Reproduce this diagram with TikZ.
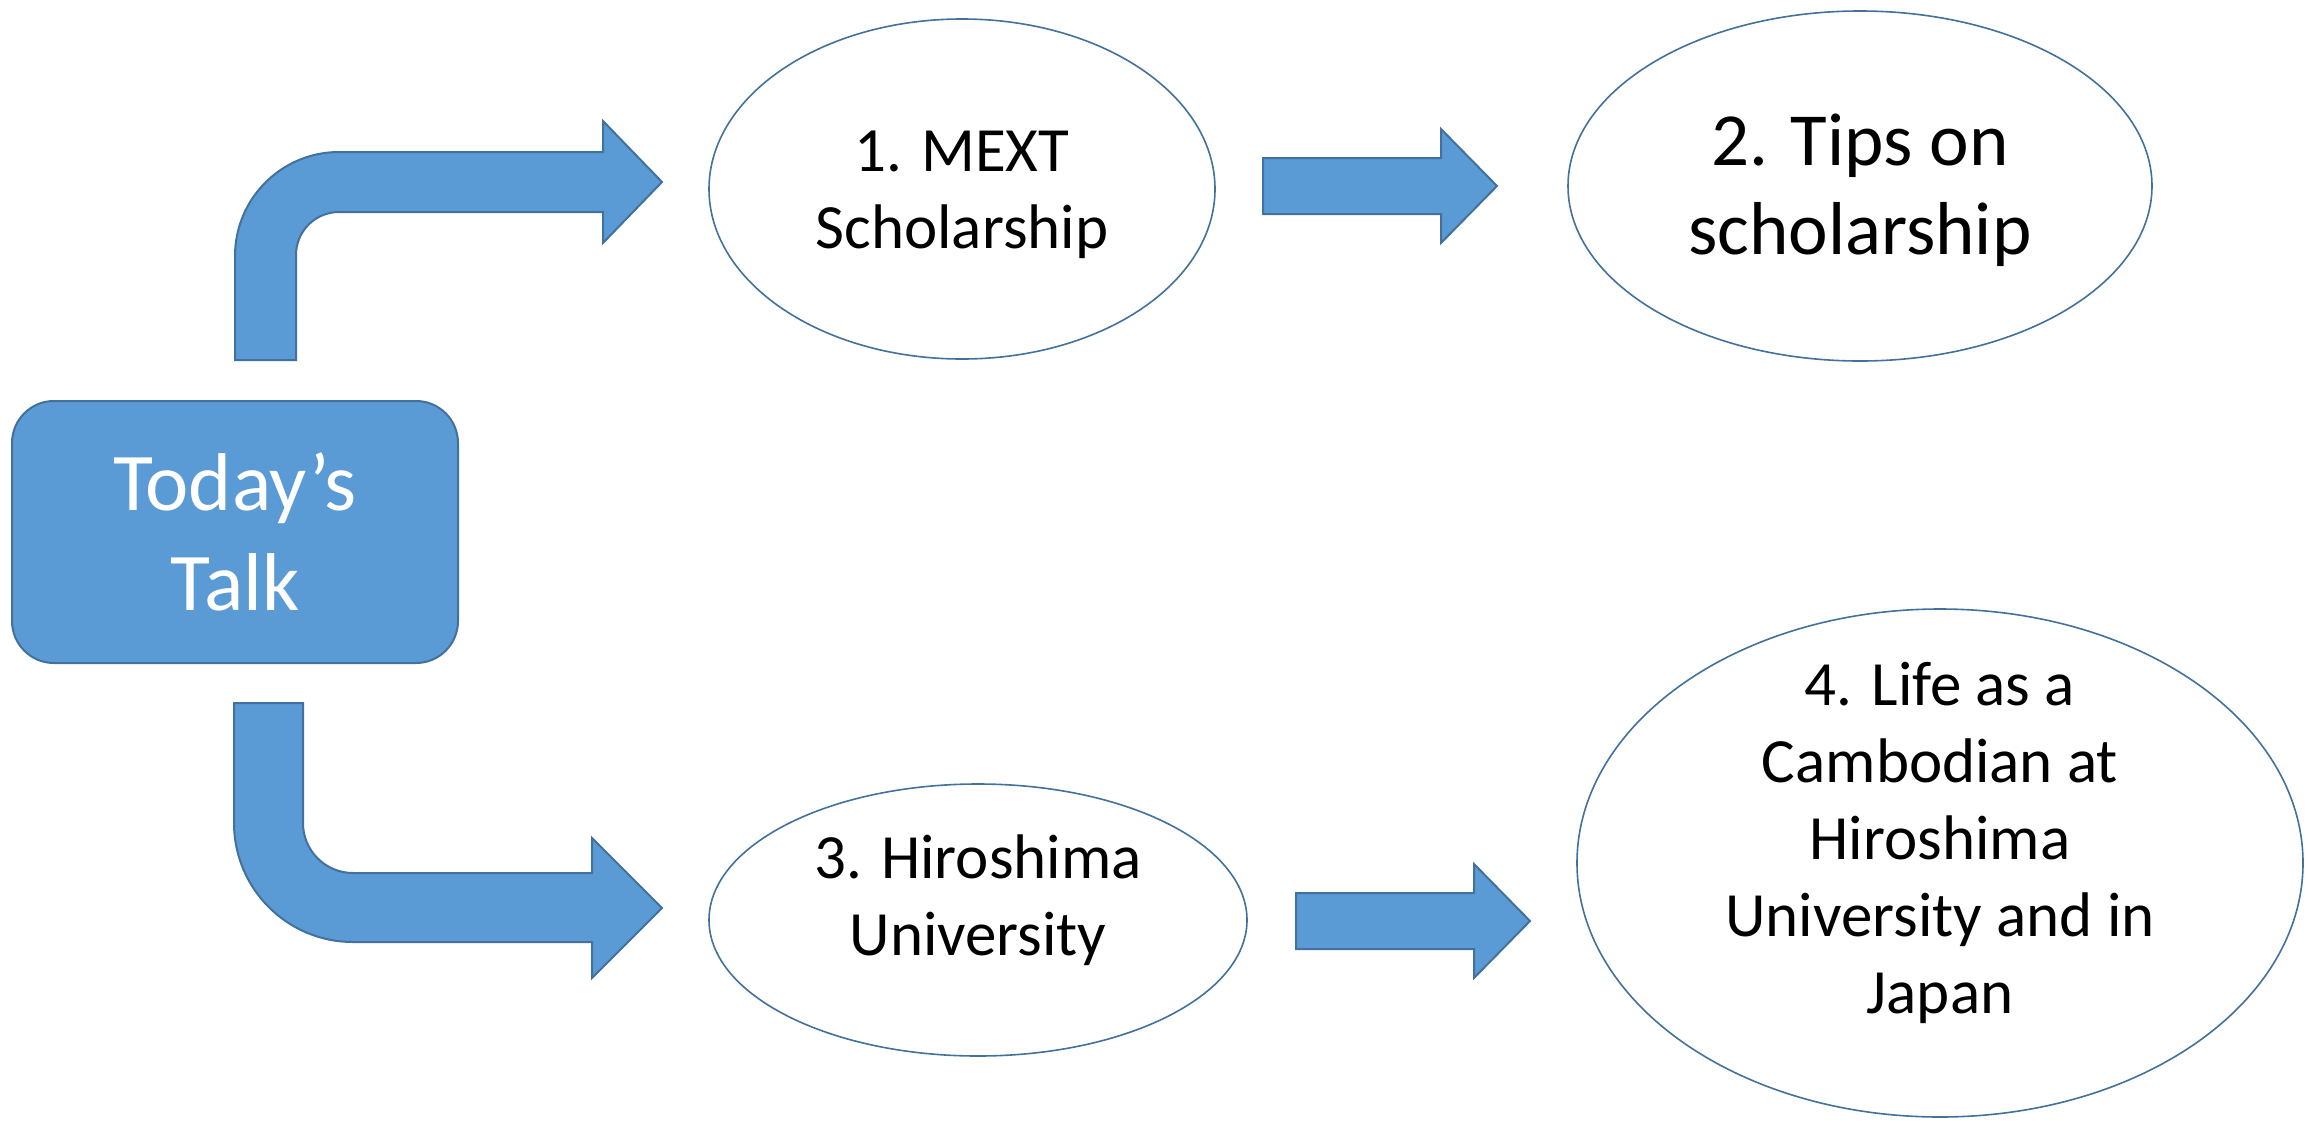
\documentclass[tikz,border=0pt]{standalone}
\usepackage{fontspec}
\setmainfont{Carlito}
\usetikzlibrary{shapes.geometric}
\definecolor{boxblue}{HTML}{5B9BD5}
\definecolor{lineblue}{HTML}{41719C}
\begin{document}
\begin{tikzpicture}[x=0.5pt,y=-0.5pt]
\tikzstyle{every node}=[align=center,inner sep=0pt]
\tikzstyle{topic}=[ellipse,draw=lineblue,line width=0.8pt,fill=white]
\tikzstyle{topictext}=[font=\fontsize{31.5}{38.5}\selectfont]
\tikzstyle{blockarrow}=[fill=boxblue,draw=lineblue,line width=1pt,line join=miter]
\useasboundingbox (0,0) rectangle (2320,1120);
\node[rectangle,rounded corners=21pt,fill=boxblue,draw=lineblue,line width=1pt,
 minimum width=223pt,minimum height=131pt,text=white,
 font=\fontsize{41}{50}\selectfont] (talk) at (235,532) {Today’s\\Talk};
\node[topic,minimum width=253pt,minimum height=170pt,
 label={[topictext,yshift=-3pt]center:1. MEXT\\Scholarship}] (mext) at (962,189) {};
\node[topic,minimum width=292pt,minimum height=175pt,
 label={[font=\fontsize{37.5}{44.5}\selectfont,yshift=-2pt]center:2. Tips on\\scholarship}] (tips) at (1860,186) {};
\node[topic,minimum width=269pt,minimum height=136pt,
 label={[topictext,yshift=10pt]center:3. Hiroshima\\University}] (hiro) at (978,920) {};
\node[topic,minimum width=363pt,minimum height=254pt,
 label={[topictext,yshift=10pt]center:4. Life as a\\Cambodian at\\Hiroshima\\University and in\\Japan}] (life) at (1940,863) {};
% bent arrows out of the talk box
\draw[blockarrow] (235,360) -- (235,256) arc[start angle=180,end angle=270,radius=104]
 -- (603,152) -- (603,121) -- (662,182) -- (603,243) -- (603,212) -- (339,212)
 arc[start angle=270,end angle=180,radius=43] -- (296,360) -- cycle;
\draw[blockarrow] (234,703) -- (234,823) arc[start angle=180,end angle=90,radius=119]
 -- (592,942) -- (592,978) -- (662,908) -- (592,838) -- (592,873) -- (353,873)
 arc[start angle=90,end angle=180,radius=50] -- (303,703) -- cycle;
% straight arrows
\foreach \x/\y in {1263/186,1296/921}
 \draw[blockarrow] (\x,\y-28) -- (\x+178,\y-28) -- (\x+178,\y-57) -- (\x+234,\y)
 -- (\x+178,\y+57) -- (\x+178,\y+28) -- (\x,\y+28) -- cycle;
\end{tikzpicture}
\end{document}
